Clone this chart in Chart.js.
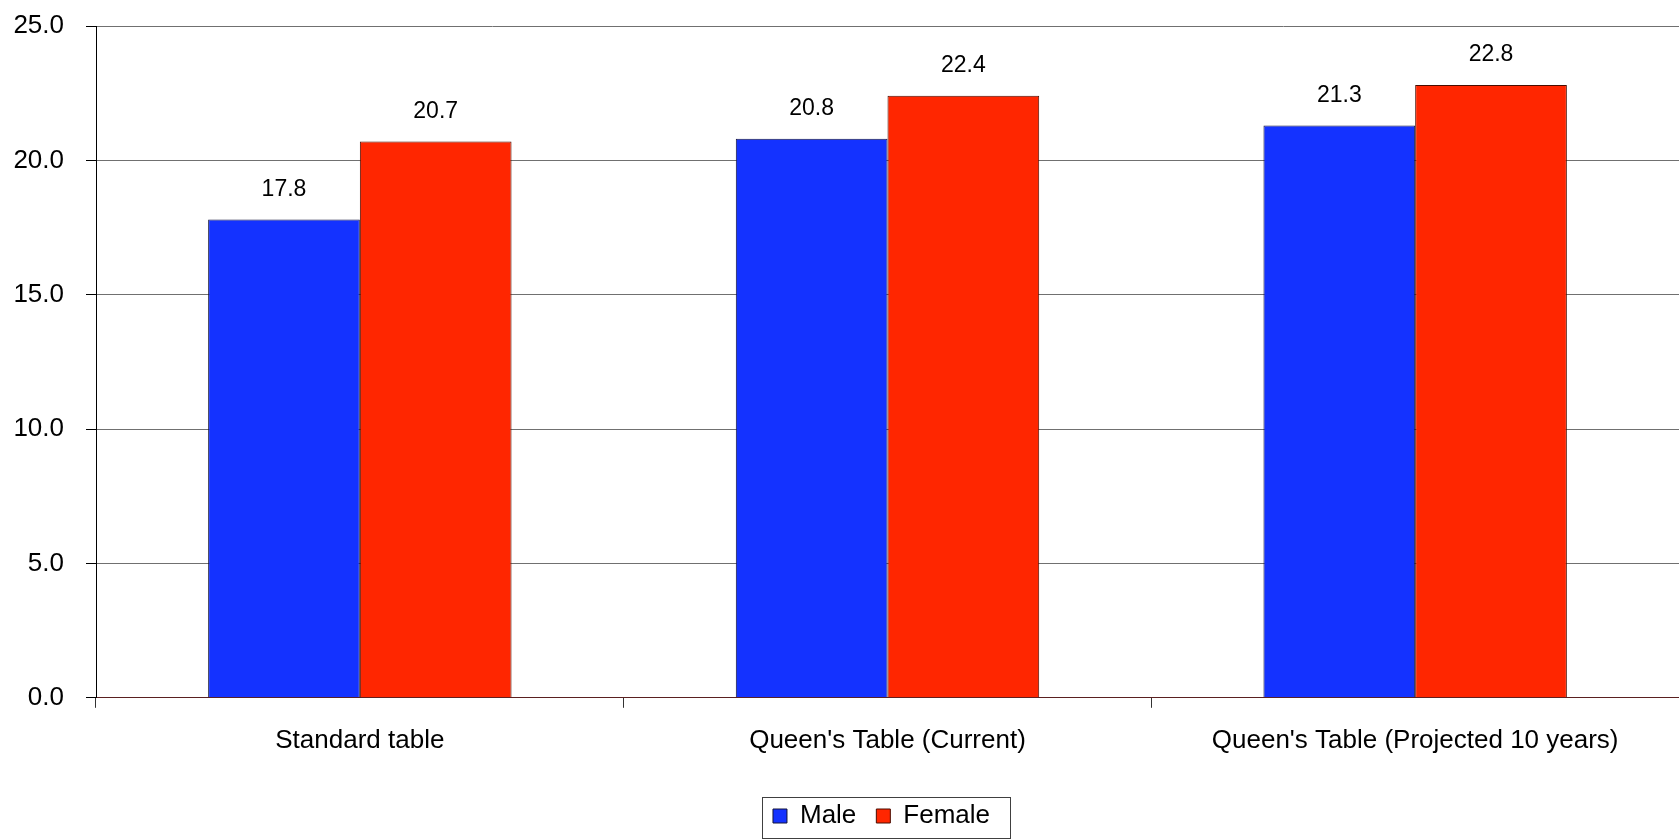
<!DOCTYPE html>
<html>
<head>
    <title>Life expectancy tables</title>
    <style>
        body { margin: 0; background: #fff; }
    </style>
</head>
<body>
    <canvas id="grafico" width="1679" height="840"></canvas>

    <script src="https://cdn.jsdelivr.net/npm/chart.js"></script>
    <script>
        // Datos
        const categorias = ['Standard table', "Queen's Table (Current)", "Queen's Table (Projected 10 years)"];
        const hombres = [17.8, 20.8, 21.3];
        const mujeres = [20.7, 22.4, 22.8];
        const ticksY = [0, 5, 10, 15, 20, 25];

        Chart.defaults.font.family = "'Liberation Sans', Arial, sans-serif";
        Chart.defaults.color = '#000';

        // Etiquetas de valor encima de cada barra
        const etiquetas = {
            id: 'etiquetas',
            afterDatasetsDraw(chart) {
                const ctx = chart.ctx;
                ctx.save();
                ctx.font = "23px 'Liberation Sans', Arial, sans-serif";
                ctx.fillStyle = '#000';
                ctx.textAlign = 'center';
                ctx.textBaseline = 'middle';
                chart.data.datasets.forEach((ds, i) => {
                    chart.getDatasetMeta(i).data.forEach((bar, j) => {
                        ctx.fillText(ds.data[j].toFixed(1), bar.x, bar.y - 30);
                    });
                });
                ctx.restore();
            }
        };

        // Leyenda centrada bajo el área del gráfico y con marco
        const marcoLeyenda = {
            id: 'marcoLeyenda',
            afterLayout(chart) {
                const leyenda = chart.legend;
                const dx = (chart.chartArea.left + chart.chartArea.right - leyenda.left - leyenda.right) / 2 - 6;
                const dy = 3;
                leyenda.left += dx;
                leyenda.right += dx;
                leyenda.top += dy;
                leyenda.bottom += dy;
                leyenda.legendHitBoxes.forEach(c => {
                    c.left += dx;
                    c.top += dy;
                });
            },
            afterDraw(chart) {
                const cajas = chart.legend.legendHitBoxes;
                if (!cajas || !cajas.length) return;
                const izq = Math.min(...cajas.map(c => c.left)) - 11;
                const der = Math.max(...cajas.map(c => c.left + c.width)) + 20;
                const arriba = Math.min(...cajas.map(c => c.top)) - 9;
                const abajo = Math.max(...cajas.map(c => c.top + c.height)) + 6;
                const ctx = chart.ctx;
                ctx.save();
                ctx.strokeStyle = '#404040';
                ctx.lineWidth = 1;
                ctx.strokeRect(Math.round(izq) + 0.5, Math.round(arriba) + 0.5, Math.round(der - izq), Math.round(abajo - arriba));
                ctx.restore();
            }
        };

        const ctx = document.getElementById('grafico').getContext('2d');
        new Chart(ctx, {
            type: 'bar',
            data: {
                labels: categorias,
                datasets: [{
                    label: 'Male',
                    data: hombres,
                    backgroundColor: '#1432ff',
                    borderColor: '#14143a',
                    borderWidth: 1,
                    categoryPercentage: 0.575,
                    barPercentage: 1.0
                }, {
                    label: 'Female',
                    data: mujeres,
                    backgroundColor: '#ff2600',
                    borderColor: '#4a0c00',
                    borderWidth: 1,
                    categoryPercentage: 0.575,
                    barPercentage: 1.0
                }]
            },
            options: {
                responsive: false,
                animation: false,
                layout: {
                    padding: { top: 26, right: 0, bottom: 4, left: 0 }
                },
                plugins: {
                    legend: {
                        position: 'bottom',
                        labels: {
                            font: { size: 26 },
                            boxWidth: 14,
                            boxHeight: 14,
                            padding: 20,
                            color: '#000'
                        }
                    },
                    tooltip: { enabled: false }
                },
                scales: {
                    x: {
                        offset: true,
                        afterFit(scale) { scale.height += 7; },
                        grid: {
                            offset: true,
                            drawOnChartArea: false,
                            drawTicks: true,
                            tickLength: 10,
                            tickColor: '#333'
                        },
                        border: { color: '#5a2020', width: 1 },
                        ticks: {
                            font: { size: 26 },
                            padding: 17,
                            maxRotation: 0
                        }
                    },
                    y: {
                        min: 0,
                        max: 25,
                        afterFit(scale) {
                            scale.width = 96;
                            // sin margen extra arriba/abajo por las etiquetas
                            scale.paddingTop = 0;
                            scale.paddingBottom = 0;
                        },
                        afterBuildTicks(scale) {
                            scale.ticks = ticksY.map(v => ({ value: v }));
                        },
                        grid: {
                            color: '#707070',
                            tickColor: '#000',
                            tickLength: 10
                        },
                        border: { color: '#000', width: 1 },
                        ticks: {
                            font: { size: 26 },
                            padding: 22,
                            callback: v => v.toFixed(1)
                        }
                    }
                }
            },
            plugins: [etiquetas, marcoLeyenda]
        });
    </script>
</body>
</html>
